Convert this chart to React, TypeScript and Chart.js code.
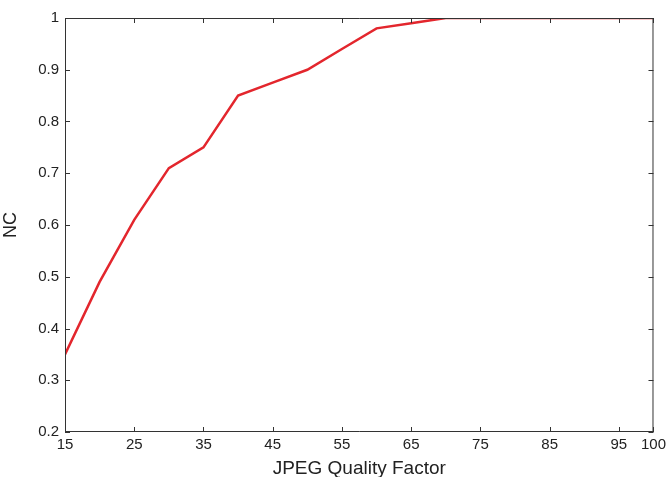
import React, { useEffect, useRef } from "react";
import { Chart, registerables } from "chart.js";

Chart.register(...registerables);

const qualityFactors = [15, 20, 25, 30, 35, 40, 45, 50, 55, 60, 65, 70, 75, 80, 85, 90, 95, 100];
const ncValues = [0.35, 0.49, 0.61, 0.71, 0.75, 0.85, 0.875, 0.9, 0.94, 0.98, 0.99, 1, 1, 1, 1, 1, 1, 1];
const xTicks = [15, 25, 35, 45, 55, 65, 75, 85, 95, 100];
const yTicks = [0.2, 0.3, 0.4, 0.5, 0.6, 0.7, 0.8, 0.9, 1];

const FONT = "'Liberation Sans', Arial, Helvetica, sans-serif";
const AXIS_COLOR = "#333333";

const boxPlugin = {
  id: "matlabBox",
  afterDraw(chart: any) {
    const { ctx, chartArea } = chart;
    const { left, right, top, bottom } = chartArea;
    const xs = chart.scales.x;
    const ys = chart.scales.y;
    const len = 5;
    ctx.save();
    ctx.strokeStyle = AXIS_COLOR;
    ctx.lineWidth = 1;
    ctx.beginPath();
    ctx.rect(left + 0.5, top + 0.5, right - left - 1, bottom - top - 1);
    for (const t of xTicks) {
      const px = Math.round(xs.getPixelForValue(t)) + 0.5;
      ctx.moveTo(px, bottom);
      ctx.lineTo(px, bottom - len);
      ctx.moveTo(px, top);
      ctx.lineTo(px, top + len);
    }
    for (const t of yTicks) {
      const py = Math.round(ys.getPixelForValue(t)) + 0.5;
      ctx.moveTo(left, py);
      ctx.lineTo(left + len, py);
      ctx.moveTo(right, py);
      ctx.lineTo(right - len, py);
    }
    ctx.stroke();
    ctx.restore();
  },
};

export default function App() {
  const ref = useRef<HTMLCanvasElement | null>(null);

  useEffect(() => {
    document.body.style.margin = "0";
    const canvas = ref.current;
    if (!canvas) return;
    const chart = new Chart(canvas, {
      type: "line",
      data: {
        datasets: [
          {
            label: "NC",
            data: qualityFactors.map((q, i) => ({ x: q, y: ncValues[i] })),
            borderColor: "#e3262d",
            borderWidth: 2.5,
            pointRadius: 0,
            tension: 0,
            fill: false,
          },
        ],
      },
      options: {
        animation: false,
        responsive: false,
        maintainAspectRatio: false,
        layout: { padding: { top: 18, right: 16, left: 0, bottom: 0 } },
        plugins: {
          legend: { display: false },
          tooltip: { enabled: false },
        },
        scales: {
          x: {
            type: "linear",
            min: 15,
            max: 100,
            afterBuildTicks: (scale: any) => {
              scale.ticks = xTicks.map((v) => ({ value: v }));
            },
            afterFit: (scale: any) => {
              scale.height = 45;
            },
            grid: { display: false, drawTicks: false },
            border: { display: false },
            ticks: {
              color: "#222222",
              font: { family: FONT, size: 15 },
              padding: 4,
              maxRotation: 0,
              autoSkip: false,
              callback: (v: any) => String(v),
            },
            title: {
              display: true,
              text: "JPEG Quality Factor",
              color: "#222222",
              font: { family: FONT, size: 19, lineHeight: 1 },
              padding: { top: 0, bottom: -1 },
            },
          },
          y: {
            type: "linear",
            min: 0.2,
            max: 1,
            afterBuildTicks: (scale: any) => {
              scale.ticks = yTicks.map((v) => ({ value: v }));
            },
            afterFit: (scale: any) => {
              scale.width = 65;
            },
            grid: { display: false, drawTicks: false },
            border: { display: false },
            ticks: {
              color: "#222222",
              font: { family: FONT, size: 15 },
              padding: 6,
              autoSkip: false,
              callback: (v: any) => String(Math.round(v * 10) / 10),
            },
            title: {
              display: true,
              text: "NC",
              color: "#222222",
              font: { family: FONT, size: 18 },
              padding: { top: 0, bottom: 0 },
            },
          },
        },
      },
      plugins: [boxPlugin],
    });
    return () => chart.destroy();
  }, []);

  return (
    <div style={{ position: "absolute", left: 0, top: 0, width: 670, height: 477, background: "#fff" }}>
      <canvas ref={ref} width={670} height={477} style={{ width: 670, height: 477, display: "block" }} />
    </div>
  );
}
